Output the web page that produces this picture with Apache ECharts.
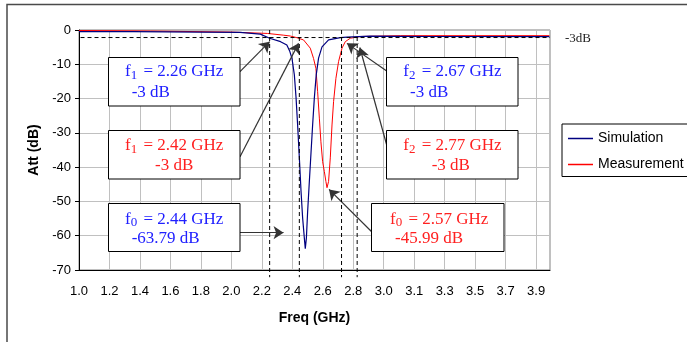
<!DOCTYPE html>
<html><head><meta charset="utf-8">
<script src="https://cdn.jsdelivr.net/npm/echarts@6/dist/echarts.min.js"></script>
<style>html,body{margin:0;padding:0;background:#fff}#c{width:687px;height:342px}</style>
</head><body><div id="c"></div>
<script>
// ---- data ----
const tickLabels = ['1.0','1.2','1.4','1.6','1.8','2.0','2.2','2.4','2.6','2.8','3.0','3.1','3.3','3.5','3.7','3.9'];
const freqStart = 1.0;      // GHz at first labelled gridline
const labelStep = 0.195;    // GHz between labelled gridlines
const freqEnd = 4.014;      // GHz at right edge of plot
const attTicks = [-70, 0, 10];

const simFreq = [1.00, 1.35, 1.78, 2.03, 2.16, 2.22, 2.29, 2.33, 2.348, 2.363, 2.378, 2.389, 2.399, 2.41, 2.421, 2.431, 2.442, 2.448, 2.455, 2.463, 2.474, 2.485, 2.495, 2.506, 2.518, 2.533, 2.555, 2.597, 2.672, 2.715, 2.864, 3.247, 4.01];
const simAtt  = [-0.45, -0.5, -0.6, -0.7, -1.2, -2.4, -3.4, -4.4, -6.1, -8.3, -13.1, -19.8, -27.7, -37.3, -47.2, -54.8, -60.7, -63.79, -60.7, -53.0, -44.2, -35.5, -27.7, -19.8, -13.1, -8.2, -4.9, -2.9, -2.2, -2.1, -1.8, -1.9, -1.95];

const measFreq = [1.00, 1.457, 1.969, 2.205, 2.307, 2.352, 2.395, 2.437, 2.48, 2.501, 2.516, 2.527, 2.538, 2.548, 2.559, 2.57, 2.58, 2.587, 2.597, 2.608, 2.619, 2.629, 2.644, 2.661, 2.683, 2.704, 2.736, 2.80, 3.056, 4.01];
const measAtt  = [-0.15, -0.3, -0.6, -1.0, -1.5, -1.75, -2.25, -2.9, -5.3, -8.3, -11.2, -18.0, -25.7, -32.6, -38.4, -41.3, -44.2, -45.99, -44.2, -37.3, -27.7, -20.9, -14.1, -9.2, -5.3, -3.4, -2.4, -1.9, -1.65, -1.65];

const cutoffFreq = [2.22, 2.41, 2.68, 2.78];   // vertical dashed markers
const cutoffSpan = [0, -72.1];                 // dB extent of those markers
const refLevel = -2.2;                         // "-3dB" dashed reference
const refSpan = [0.965, 4.014];                // GHz extent of reference line
const refLabel = '-3dB';

const annSub   = ['1', '1', '0', '2', '2', '0'];
const annFreq  = ['2.26', '2.42', '2.44', '2.67', '2.77', '2.57'];
const annAtt   = ['-3 dB', '-3 dB', '-63.79 dB', '-3 dB', '-3 dB', '-45.99 dB'];
const annSeries = ['sim', 'meas', 'sim', 'sim', 'meas', 'meas'];
const annTipFreq = [2.22, 2.405, 2.309, 2.715, 2.797, 2.60];
const annTipAtt  = [-3.4, -3.9, -59.1, -3.9, -5.1, -46.5];

// ---- layout / style ----
const toU = f => (f - freqStart) / labelStep;
const BLUE_LINE = '#000080', RED_LINE = '#ff0000';
const BLUE_TXT = '#2020ff', RED_TXT = '#ff2020';
const SERIF = '"Liberation Serif", "Times New Roman", serif';
const SANS = '"Liberation Sans", Arial, sans-serif';
const LINE_ICON = 'path://M0,0 L100,0 L100,6 L0,6 Z';

const boxLayout = [
  {box:[108.5,57.5,131.5,48.5], l1:[125,72], l2:[131.7,93], from:[240,71.7]},
  {box:[108.5,130.5,131.5,48.5], l1:[125,146], l2:[155,166], from:[240,156.7]},
  {box:[108.5,203.5,131.5,48], l1:[125,219.3], l2:[131.7,239], from:[240,232.7]},
  {box:[386.5,57.5,131.5,48.5], l1:[403.3,72], l2:[410,93], from:[386.7,71]},
  {box:[386.5,130.5,131.5,48.5], l1:[403.3,146], l2:[431.7,166], from:[386.7,145]},
  {box:[371.5,203.5,132.5,48], l1:[390,219.3], l2:[395,239], from:[371.7,231.7]}
];

const chart = echarts.init(document.getElementById('c'), null, {renderer: 'canvas'});

const dashStyle = {color: '#000', width: 1, type: [4, 3]};
const series = [
  {
    name: 'Measurement', type: 'line', symbol: 'none', z: 3,
    data: measFreq.map((f, i) => [toU(f), measAtt[i]]),
    lineStyle: {color: RED_LINE, width: 1}, itemStyle: {color: RED_LINE},
    animation: false
  },
  {
    name: 'Simulation', type: 'line', symbol: 'none', z: 4,
    data: simFreq.map((f, i) => [toU(f), simAtt[i]]),
    lineStyle: {color: BLUE_LINE, width: 1.2}, itemStyle: {color: BLUE_LINE},
    animation: false
  }
];
cutoffFreq.forEach((f, k) => {
  series.push({
    name: 'cut' + k, type: 'line', symbol: 'none', clip: false, silent: true, z: 5,
    data: [[toU(f), cutoffSpan[0]], [toU(f), cutoffSpan[1]]],
    lineStyle: dashStyle, animation: false
  });
});
series.push({
  name: 'ref', type: 'line', symbol: 'none', clip: false, silent: true, z: 5,
  data: [[toU(refSpan[0]), refLevel], [toU(refSpan[1]), refLevel]],
  lineStyle: dashStyle, animation: false,
  markLine: {
    silent: true, animation: false,
    symbol: ['none', 'arrow'], symbolSize: 10,
    label: {show: false},
    lineStyle: {color: '#333', width: 1.2, type: 'solid'},
    data: boxLayout.map((b, i) => [
      {x: b.from[0], y: b.from[1]},
      {coord: [toU(annTipFreq[i]), annTipAtt[i]]}
    ])
  }
});

const graphic = [
  {type: 'rect', z: 0, silent: true, shape: {x: 7, y: 4.5, width: 720, height: 400},
   style: {fill: 'none', stroke: '#4a4a4a', lineWidth: 1.5}}
];
boxLayout.forEach((b, i) => {
  const col = annSeries[i] === 'sim' ? BLUE_TXT : RED_TXT;
  graphic.push({type: 'rect', z: 100, silent: true,
    shape: {x: b.box[0], y: b.box[1], width: b.box[2], height: b.box[3]},
    style: {fill: '#fff', stroke: '#000', lineWidth: 1}});
  graphic.push({type: 'text', z: 101, silent: true, x: b.l1[0], y: b.l1[1],
    style: {
      text: '{t|f}{s|' + annSub[i] + '}{t| = ' + annFreq[i] + ' GHz}',
      align: 'left', verticalAlign: 'middle',
      rich: {
        t: {fontFamily: SERIF, fontSize: 17, fill: col, color: col, lineHeight: 20},
        s: {fontFamily: SERIF, fontSize: 13, fill: col, color: col, lineHeight: 13, verticalAlign: 'bottom', padding: [0, 2, 0, 0]}
      }
    }});
  graphic.push({type: 'text', z: 101, silent: true, x: b.l2[0], y: b.l2[1],
    style: {text: annAtt[i], fontFamily: SERIF, fontSize: 17, fill: col,
      align: 'left', verticalAlign: 'middle'}});
});

chart.setOption({
  animation: false,
  backgroundColor: '#fff',
  grid: {left: 79, top: 30, width: 471, height: 240, show: true, borderColor: '#808080', borderWidth: 1, containLabel: false},
  xAxis: {
    type: 'value', min: 0, max: toU(freqEnd), interval: 1,
    name: 'Freq (GHz)', nameLocation: 'middle', nameGap: 41,
    nameTextStyle: {fontFamily: SANS, fontSize: 14, fontWeight: 'bold', color: '#000'},
    axisLine: {show: true, onZero: false, lineStyle: {color: '#000', width: 1}},
    axisTick: {show: false},
    splitLine: {show: true, lineStyle: {color: '#c0c0c0', width: 1}},
    axisLabel: {
      margin: 15, fontFamily: SANS, fontSize: 13, color: '#000',
      showMinLabel: true, showMaxLabel: true,
      formatter: v => (Math.abs(v - Math.round(v)) < 1e-6 && tickLabels[Math.round(v)] !== undefined) ? tickLabels[Math.round(v)] : ''
    }
  },
  yAxis: {
    type: 'value', min: attTicks[0], max: attTicks[1], interval: attTicks[2],
    name: 'Att (dB)', nameLocation: 'middle', nameGap: 38, nameRotate: 90,
    nameTextStyle: {fontFamily: SANS, fontSize: 14, fontWeight: 'bold', color: '#000'},
    axisLine: {show: true, onZero: false, lineStyle: {color: '#000', width: 1}},
    axisTick: {show: true, length: 4, lineStyle: {color: '#000'}},
    splitLine: {show: true, lineStyle: {color: '#c0c0c0', width: 1}},
    axisLabel: {margin: 8, fontFamily: SANS, fontSize: 13, color: '#000'}
  },
  legend: {
    data: [{name: 'Simulation', icon: LINE_ICON}, {name: 'Measurement', icon: LINE_ICON}],
    left: 562, top: 124, orient: 'vertical',
    itemWidth: 25, itemHeight: 12, itemGap: 12,
    padding: [7.5, 20, 5, 6],
    borderColor: '#000', borderWidth: 1, backgroundColor: '#fff',
    textStyle: {fontFamily: SANS, fontSize: 14, color: '#000'}
  },
  title: {
    text: refLabel, left: 565, top: 32, padding: 0,
    textStyle: {fontFamily: SERIF, fontSize: 13, fontWeight: 'normal', color: '#222'}
  },
  graphic: graphic,
  series: series
});
</script>
</body></html>
